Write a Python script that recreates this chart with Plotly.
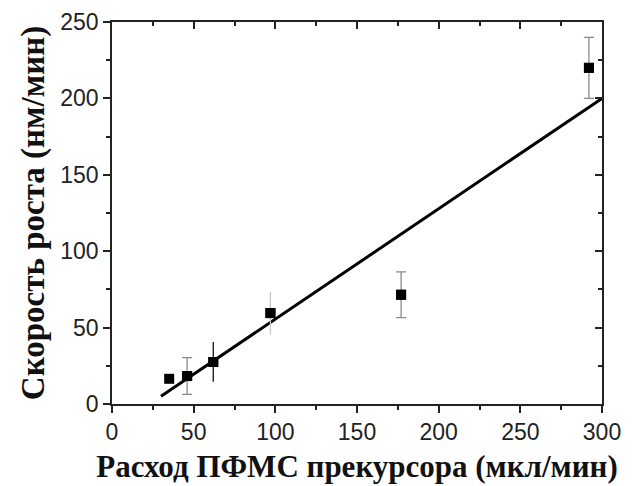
import plotly.graph_objects as go

# Measured growth rate vs. PFMS precursor flow
flow = [35, 46, 62, 97, 177, 292]            # мкл/мин
rate = [16.5, 18.3, 27.5, 59.5, 71.5, 220]   # нм/мин

# Error bar groups (indices into the arrays above)
capped_idx = [1, 4, 5]
capped_err = [12, 15, 20]
dark_idx = [2]
dark_err = [13]
light_idx = [3]
light_err = [14]

# Linear fit drawn across the plot
fit_x = [30, 300]
fit_y = [5, 200]

x_title = "Расход ПФМС прекурсора (мкл/мин)"
y_title = "Скорость роста (нм/мин)"

fig = go.Figure()

fig.add_trace(go.Scatter(
    x=fit_x, y=fit_y, mode="lines",
    line=dict(color="black", width=3), showlegend=False, hoverinfo="skip"))

def err_trace(idx, err, color, width, thick):
    return go.Scatter(
        x=[flow[i] for i in idx], y=[rate[i] for i in idx], mode="markers",
        marker=dict(symbol="square", size=10, color="black"),
        error_y=dict(type="data", array=err, visible=True, color=color,
                     thickness=thick, width=width),
        showlegend=False)

fig.add_trace(err_trace(capped_idx, capped_err, "#8a8a8a", 5, 1.3))
fig.add_trace(err_trace(dark_idx, dark_err, "#111111", 0, 1.3))
fig.add_trace(err_trace(light_idx, light_err, "#c8c8c8", 0, 1.3))

fig.add_trace(go.Scatter(
    x=flow, y=rate, mode="markers",
    marker=dict(symbol="square", size=10, color="black"), showlegend=False))

# Invisible trace anchoring the mirrored top/right axes
fig.add_trace(go.Scatter(x=[0], y=[0], xaxis="x2", yaxis="y2", mode="markers",
                         marker=dict(opacity=0), showlegend=False, hoverinfo="skip"))

axis_line = "#222222"
tick_font = dict(family="Liberation Sans, Arial, sans-serif", size=23, color="#222222")
x_title_font = dict(family="Liberation Serif, Times New Roman, serif", size=31, color="#111111")
y_title_font = dict(family="Liberation Serif, Times New Roman, serif", size=33, color="#111111")

fig.update_layout(
    width=632, height=486,
    margin=dict(l=112, r=30, t=22, b=82),
    paper_bgcolor="white", plot_bgcolor="white",
    xaxis=dict(
        range=[0, 300], tickvals=[0, 50, 100, 150, 200, 250, 300],
        ticks="outside", ticklen=7, tickwidth=1.6, tickcolor=axis_line,
        minor=dict(tickvals=[25, 75, 125, 175, 225, 275], ticks="outside",
                   ticklen=4, tickwidth=1.6, tickcolor=axis_line),
        showline=True, linecolor=axis_line, linewidth=1.6, automargin=False,
        showgrid=False, zeroline=False, tickfont=tick_font,
        title=dict(text="<b>" + x_title + "</b>", font=x_title_font, standoff=11),
    ),
    yaxis=dict(
        range=[0, 250], tickvals=[0, 50, 100, 150, 200, 250],
        ticks="outside", ticklen=7, tickwidth=1.6, tickcolor=axis_line,
        minor=dict(tickvals=[25, 75, 125, 175, 225], ticks="outside",
                   ticklen=4, tickwidth=1.6, tickcolor=axis_line),
        showline=True, linecolor=axis_line, linewidth=1.6, automargin=False,
        showgrid=False, zeroline=False, tickfont=tick_font,
        title=dict(text="<b>" + y_title + "</b>", font=y_title_font, standoff=6),
    ),
    xaxis2=dict(
        range=[0, 300], overlaying="x", side="top", anchor="y",
        tickvals=[0, 50, 100, 150, 200, 250, 300], showticklabels=False,
        ticks="inside", ticklen=7, tickwidth=1.6, tickcolor=axis_line,
        minor=dict(tickvals=[25, 75, 125, 175, 225, 275], ticks="inside",
                   ticklen=4, tickwidth=1.6, tickcolor=axis_line),
        showline=True, linecolor=axis_line, linewidth=1.6, automargin=False,
        showgrid=False, zeroline=False,
    ),
    yaxis2=dict(
        range=[0, 250], overlaying="y", side="right", anchor="x",
        tickvals=[0, 50, 100, 150, 200, 250], showticklabels=False,
        ticks="inside", ticklen=7, tickwidth=1.6, tickcolor=axis_line,
        minor=dict(tickvals=[25, 75, 125, 175, 225], ticks="inside",
                   ticklen=4, tickwidth=1.6, tickcolor=axis_line),
        showline=True, linecolor=axis_line, linewidth=1.6, automargin=False,
        showgrid=False, zeroline=False,
    ),
)

fig.write_html("out.html")
